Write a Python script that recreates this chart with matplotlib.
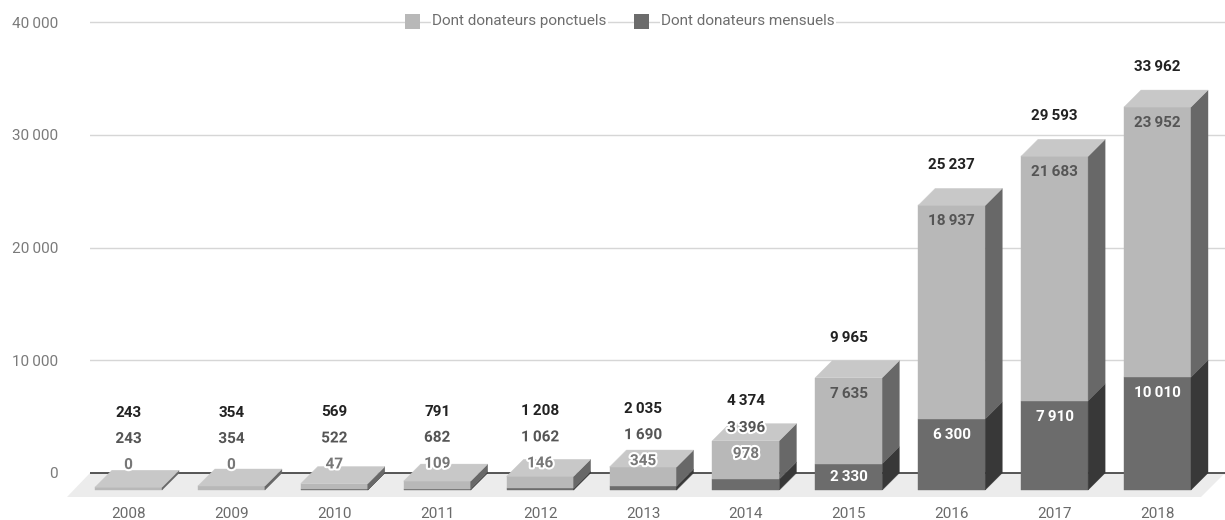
import numpy as np
import matplotlib.pyplot as plt
from matplotlib.patches import Polygon, Rectangle
from matplotlib.ticker import FuncFormatter
import matplotlib.patheffects as pe

plt.rcParams['font.family'] = ['Roboto', 'DejaVu Sans']

years = ['2008', '2009', '2010', '2011', '2012', '2013', '2014', '2015', '2016', '2017', '2018']
mensuels = [0, 0, 47, 109, 146, 345, 978, 2330, 6300, 7910, 10010]
ponctuels = [243, 354, 522, 682, 1062, 1690, 3396, 7635, 18937, 21683, 23952]
y_ticks = [0, 10000, 20000, 30000, 40000]
series_names = ['Dont donateurs ponctuels', 'Dont donateurs mensuels']

# face colours: front, side, top
light = ('#b8b8b8', '#686868', '#c8c8c8')
dark = ('#6c6c6c', '#383838', '#7a7a7a')

W, H = 1225, 520
fig = plt.figure(figsize=(W / 100, H / 100), dpi=100)
left_px, bottom_px = 90, 497
ax = fig.add_axes([left_px / W, (H - bottom_px) / H, 1 - left_px / W, bottom_px / H])

# pixel <-> data helpers
x0_px, step_px = 128.5, 102.9
zero_px = 473
unit_px = 451 / 40000


def pv(p):
    return p / unit_px


def px(p):
    return p / step_px


ax.set_xlim(px(left_px - x0_px), px(W - x0_px))
ax.set_ylim(-pv(bottom_px - zero_px), pv(zero_px))

dx, dv = px(17), pv(17)
hw = px(33.5)


def fmt(v):
    return f"{int(v):,}".replace(",", "\u2009")


# floor
fd = pv(24)
floor = Polygon([(px(67 - x0_px), -fd), (px(1201 - x0_px), -fd),
                 (px(W - x0_px), 0), (px(left_px - x0_px), 0)],
                closed=True, fc='#ececec', ec='none', zorder=1, clip_on=False)
ax.add_patch(floor)

ax.set_yticks(y_ticks)
ax.yaxis.set_major_formatter(FuncFormatter(lambda v, p: fmt(v)))
ax.yaxis.grid(True, color='#d6d6d6', lw=1)
ax.set_axisbelow(True)
ax.axhline(0, color='#3a3a3a', lw=1.2, zorder=1.5)

ax.set_xticks(range(len(years)))
ax.set_xticklabels(years)
ax.tick_params(axis='y', length=0, pad=23, labelcolor='#7a7a7a', labelsize=11)
ax.tick_params(axis='x', length=0, pad=7, labelcolor='#6a6a6a', labelsize=11)
for s in ax.spines.values():
    s.set_visible(False)


def segment(i, lo, hi, cols, top):
    x1, x2 = i - hw, i + hw
    ax.add_patch(Polygon([(x1, lo - dv), (x2, lo - dv), (x2, hi - dv), (x1, hi - dv)],
                         fc=cols[0], ec=cols[0], lw=0.3, zorder=3))
    ax.add_patch(Polygon([(x2, lo - dv), (x2 + dx, lo), (x2 + dx, hi), (x2, hi - dv)],
                         fc=cols[1], ec=cols[1], lw=0.3, zorder=3))
    if top:
        ax.add_patch(Polygon([(x1, hi - dv), (x2, hi - dv), (x2 + dx, hi), (x1 + dx, hi)],
                             fc=cols[2], ec=cols[2], lw=0.3, zorder=3))


halo = [pe.withStroke(linewidth=3, foreground='white')]
gap = pv(26)

for i in range(len(years)):
    m, p = mensuels[i], ponctuels[i]
    tot = m + p
    if m > 0:
        segment(i, 0, m, dark, p == 0)
    if p > 0:
        segment(i, m, tot, light, True)

    # dark label
    if m * unit_px >= 20:
        yd = max(m - dv - pv(16), m / 2 - dv)
        ax.text(i, yd, fmt(m), ha='center', va='center', fontsize=11,
                fontweight='bold', color='white', zorder=5)
    else:
        yd = m - dv + pv(25)
        ax.text(i, yd, fmt(m), ha='center', va='center', fontsize=11,
                fontweight='bold', color='#777777', zorder=5, path_effects=halo)

    # light label
    if p * unit_px >= 20:
        yl = max(tot - dv - pv(16), (m + tot) / 2 - dv)
    else:
        yl = tot - dv + pv(25)
    inside = yl < tot - dv
    if yl < yd + gap:
        yl = yd + gap
        inside = False
    ax.text(i, yl, fmt(p), ha='center', va='center', fontsize=11,
            fontweight='bold', color='#555555', zorder=5,
            path_effects=None if inside else halo)

    # total label
    yt = max(tot - dv + pv(40), yl + gap)
    ax.text(i, yt, fmt(tot), ha='center', va='center', fontsize=11,
            fontweight='bold', color='#222222', zorder=5)

# legend
leg_y = 21
for j, (name, col) in enumerate(zip(series_names, [light[0], dark[0]])):
    sx = [405, 634][j]
    fig.patches.append(Rectangle((sx / W, 1 - (leg_y + 8) / H), 15 / W, 15 / H,
                                 transform=fig.transFigure, fc=col, ec='none', zorder=3))
    fig.text((sx + 27) / W, 1 - leg_y / H, name, ha='left', va='center', fontsize=11,
             color='#6e6e6e', zorder=3,
             bbox=dict(fc='white', ec='none', pad=1))

fig.savefig('out.png', dpi=100)
